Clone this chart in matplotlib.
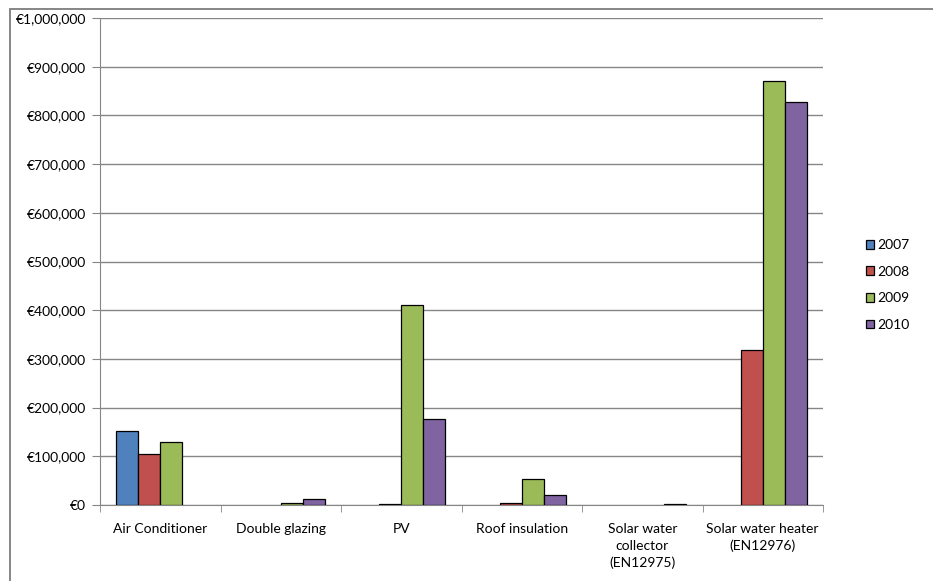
import numpy as np
import matplotlib
matplotlib.use("Agg")
import matplotlib.pyplot as plt
from matplotlib.patches import Rectangle
from matplotlib.ticker import FuncFormatter

plt.rcParams['font.family'] = ['Lato', 'DejaVu Sans']

categories = ["Air Conditioner", "Double glazing", "PV", "Roof insulation",
              "Solar water\ncollector\n(EN12975)", "Solar water heater\n(EN12976)"]
years = ["2007", "2008", "2009", "2010"]
v2007 = [151000, 0, 0, 0, 0, 0]
v2008 = [105000, 0, 1500, 4500, 0, 318000]
v2009 = [130000, 4500, 411000, 53000, 0, 871000]
v2010 = [0, 11500, 176000, 20500, 2500, 827000]
series = [v2007, v2008, v2009, v2010]
colors = ["#4F81BD", "#C0504D", "#9BBB59", "#8064A2"]

W, H = 933, 581
fig = plt.figure(figsize=(W / 100, H / 100), dpi=100)
ax = fig.add_axes([100 / W, 1 - 505 / H, 723 / W, 487 / H])

# outer chart-area frame (only top and left edges visible)
fig.add_artist(Rectangle((10 / W, -0.5), 2, 1 - 9 / H + 0.5, transform=fig.transFigure,
                         fill=False, edgecolor="#868686", linewidth=1.4))

x = np.arange(len(categories))
bw = 1 / 5.5
for i, (vals, c, yr) in enumerate(zip(series, colors, years)):
    vals = np.array(vals, dtype=float)
    keep = vals > 0  # Excel draws nothing for empty values
    ax.bar((x + (i - 1.5) * bw)[keep], vals[keep], width=bw, color=c,
           edgecolor="black", linewidth=0.9, label=yr, zorder=3)

ax.set_xlim(-0.5, 5.5)
ax.set_ylim(0, 1000000)
ax.set_yticks(np.arange(0, 1000001, 100000))
ax.yaxis.set_major_formatter(FuncFormatter(lambda v, p: "€{:,.0f}".format(v)))
ax.grid(axis="y", color="#868686", linewidth=1.0, zorder=0)

ax.set_xticks(x)
ax.set_xticklabels(categories, fontsize=10, linespacing=1.45)
ax.set_xticks(np.arange(-0.5, 6, 1), minor=True)
ax.tick_params(axis="x", which="major", length=0, pad=13)
ax.tick_params(axis="x", which="minor", length=5, color="#868686", direction="out")
ax.tick_params(axis="y", length=6, color="#868686", labelsize=10, pad=4)

for s in ["top", "right"]:
    ax.spines[s].set_visible(False)
for s in ["left", "bottom"]:
    ax.spines[s].set_color("#868686")

fig.legend(loc="center left", bbox_to_anchor=(860 / W, 1 - 285 / H), frameon=False,
           fontsize=10, handlelength=0.6, handleheight=0.6, handletextpad=0.25,
           labelspacing=1.05, borderaxespad=0)

fig.savefig("out.png", dpi=100)
